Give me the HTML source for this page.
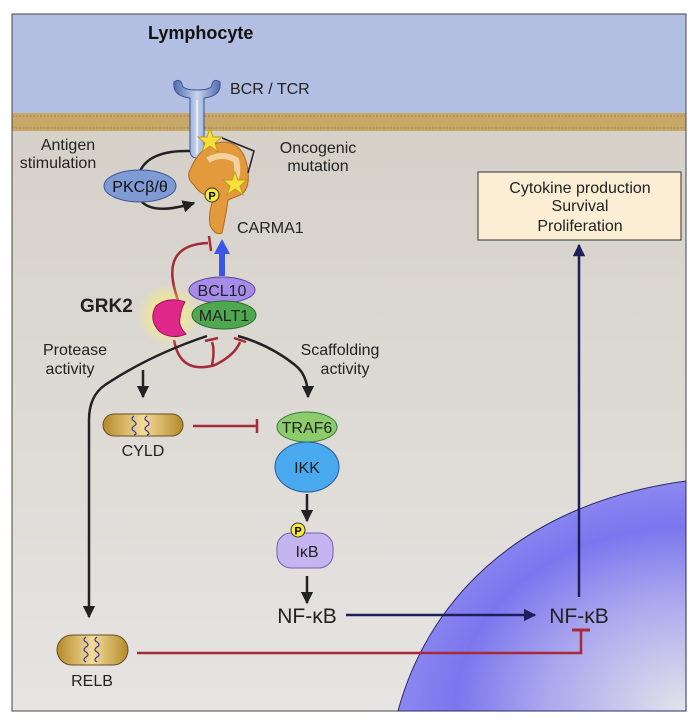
<!DOCTYPE html>
<html><head><meta charset="utf-8"><style>
body{margin:0;background:#fff}
svg{display:block;font-family:"Liberation Sans",Arial,sans-serif}
</style></head><body>
<svg width="700" height="726" viewBox="0 0 700 726" xmlns="http://www.w3.org/2000/svg">
<defs>
<linearGradient id="bg" x1="0" y1="0" x2="0" y2="1"><stop offset="0" stop-color="#d2cdc4"/><stop offset="1" stop-color="#e6e4e2"/></linearGradient>
<radialGradient id="nuc" cx="1" cy="1" r="1"><stop offset="0" stop-color="#e4e4ea"/><stop offset="0.5" stop-color="#a9a6ee"/><stop offset="0.8" stop-color="#7b76ee"/><stop offset="1" stop-color="#8d88f0"/></radialGradient>
<linearGradient id="cap" x1="0" y1="0" x2="1" y2="0"><stop offset="0" stop-color="#b48a2a"/><stop offset="0.5" stop-color="#f3dc9a"/><stop offset="1" stop-color="#b48a2a"/></linearGradient>
<linearGradient id="rec" x1="0" y1="0" x2="1" y2="0"><stop offset="0" stop-color="#4f6cb0"/><stop offset="0.5" stop-color="#c8d4f0"/><stop offset="1" stop-color="#4f6cb0"/></linearGradient>
<radialGradient id="glow"><stop offset="0" stop-color="#fff36a"/><stop offset="1" stop-color="#fff36a" stop-opacity="0"/></radialGradient>
<marker id="ah" viewBox="0 0 10 10" refX="9" refY="5" markerWidth="5" markerHeight="5" orient="auto"><path d="M0,0L10,5L0,10z" fill="#222"/></marker>
<marker id="ahn" viewBox="0 0 10 10" refX="9" refY="5" markerWidth="5" markerHeight="5" orient="auto"><path d="M0,0L10,5L0,10z" fill="#1e1e5a"/></marker>
</defs>
<rect x="12" y="14" width="674" height="697" fill="url(#bg)" stroke="#444" stroke-width="1"/>
<rect x="12.5" y="14.5" width="673" height="99" fill="#b3bfe2"/>
<rect x="12.5" y="113" width="673" height="18" fill="#c7a868"/>
<g stroke="#a3844a" stroke-width="1">
<line x1="12" y1="116" x2="686" y2="116" stroke-dasharray="2,1.5"/>
<line x1="12" y1="128" x2="686" y2="128" stroke-dasharray="2,1.5"/>
</g>
<path d="M398 711 C425 610,510 505,686 481 L686 711Z" fill="url(#nuc)" stroke="#2a2a6a" stroke-width="1"/>
<text x="148" y="39" font-size="18" font-weight="bold" fill="#111">Lymphocyte</text>
<!-- receptor -->
<path d="M174 82 Q172 96 190 98 L190 150 Q190 158 197 158 Q204 158 204 150 L204 98 Q222 96 220 82 Q214 78 212 84 Q212 90 197 90 Q182 90 182 84 Q180 78 174 82Z" fill="url(#rec)" stroke="#3d5390"/>
<line x1="197" y1="100" x2="197" y2="154" stroke="#f0f4ff" stroke-width="1.5"/>
<text x="230" y="94" font-size="16" fill="#222">BCR / TCR</text>
<text x="68" y="150" font-size="16" fill="#222" text-anchor="middle">Antigen</text>
<text x="58" y="168" font-size="16" fill="#222" text-anchor="middle">stimulation</text>
<!-- CARMA1 -->
<path d="M190 170 Q200 145 222 142 Q245 142 248 172 Q250 190 240 195 L228 200 Q226 215 222 233 Q215 236 210 225 Q208 212 214 198 Q200 195 194 185 Q186 178 190 170Z" fill="#e39a3c" stroke="#b06a20"/>
<path d="M208 160 Q222 152 236 160 Q240 175 232 185" fill="none" stroke="#f6e0b8" stroke-width="6" opacity="0.8"/>
<polygon points="210,128 213,137 222,137 215,143 218,152 210,146 202,152 205,143 198,137 207,137" fill="#f6e03a" stroke="#c09a20"/>
<polygon points="235,172 238,180 247,180 240,186 243,195 235,189 227,195 230,186 223,180 232,180" fill="#f6e03a" stroke="#c09a20"/>
<circle cx="212" cy="195" r="7" fill="#f7ea3a" stroke="#333"/><text x="212" y="199.5" font-size="11" font-weight="bold" text-anchor="middle">P</text>
<polyline points="222,138 254,151 248,173" fill="none" stroke="#222" stroke-width="1.5"/>
<text x="318" y="153" font-size="16" fill="#222" text-anchor="middle">Oncogenic</text>
<text x="318" y="171" font-size="16" fill="#222" text-anchor="middle">mutation</text>
<text x="237" y="233" font-size="16" fill="#222">CARMA1</text>
<!-- PKC -->
<path d="M140 171 Q150 150 190 151" fill="none" stroke="#222" stroke-width="2.5"/>
<path d="M142 202 Q155 215 194 203" fill="none" stroke="#222" stroke-width="2.5" marker-end="url(#ah)"/>
<ellipse cx="140" cy="186" rx="36" ry="16" fill="#7f9ad4" stroke="#3d5390"/>
<text x="140" y="192" font-size="16" text-anchor="middle" fill="#111">PKCβ/θ</text>
<!-- blue arrow -->
<line x1="222" y1="276" x2="222" y2="252" stroke="#3a55e8" stroke-width="6"/>
<path d="M214 254 L222 239 L230 254Z" fill="#3a55e8"/>
<!-- red loops -->
<path d="M178 300 Q158 245 208 243" fill="none" stroke="#a52a3a" stroke-width="2.5"/>
<line x1="209" y1="236" x2="211" y2="251" stroke="#a52a3a" stroke-width="2.5"/>
<path d="M174 340 Q180 375 215 365 Q235 355 240 342" fill="none" stroke="#a52a3a" stroke-width="2.5"/>
<path d="M212 365 Q215 350 212 342" fill="none" stroke="#a52a3a" stroke-width="2.5"/>
<line x1="205" y1="341" x2="218" y2="338" stroke="#a52a3a" stroke-width="2.5"/>
<line x1="234" y1="338" x2="246" y2="342" stroke="#a52a3a" stroke-width="2.5"/>
<!-- GRK2 -->
<circle cx="168" cy="315" r="32" fill="url(#glow)"/>
<ellipse cx="222" cy="290" rx="33" ry="13" fill="#a58ce8" stroke="#5a40a0"/>
<text x="222" y="296" font-size="16" text-anchor="middle" fill="#222">BCL10</text>
<ellipse cx="224" cy="315" rx="32" ry="14" fill="#4fa850" stroke="#2a6a2a"/>
<text x="224" y="321" font-size="16" text-anchor="middle" fill="#222">MALT1</text>
<path d="M185 302 Q168 296 156 306 Q148 320 160 332 Q172 340 186 334 Q178 326 180 318 Q181 308 185 302Z" fill="#e0288a" stroke="#a01060"/>
<text x="80" y="312" font-size="19" font-weight="bold" fill="#222">GRK2</text>
<text x="75" y="355" font-size="16" fill="#222" text-anchor="middle">Protease</text>
<text x="70" y="374" font-size="16" fill="#222" text-anchor="middle">activity</text>
<text x="340" y="355" font-size="16" fill="#222" text-anchor="middle">Scaffolding</text>
<text x="345" y="374" font-size="16" fill="#222" text-anchor="middle">activity</text>
<!-- black branches -->
<path d="M207 336 Q150 355 105 385 Q89 396 89 420 L89 617" fill="none" stroke="#222" stroke-width="2.5" marker-end="url(#ah)"/>
<path d="M143 370 L143 397" fill="none" stroke="#222" stroke-width="2.5" marker-end="url(#ah)"/>
<path d="M238 336 Q270 345 295 365 Q308 375 308 397" fill="none" stroke="#222" stroke-width="2.5" marker-end="url(#ah)"/>
<!-- CYLD -->
<rect x="103" y="414" width="80" height="22" rx="11" fill="url(#cap)" stroke="#6a5020"/>
<path d="M134 416 q-4 3 0 5 q4 3 0 5 q-4 3 0 5 q4 3 0 4 M147 416 q-4 3 0 5 q4 3 0 5 q-4 3 0 5 q4 3 0 4" fill="none" stroke="#3a3aa0" stroke-width="1.2"/>
<text x="143" y="456" font-size="16" text-anchor="middle" fill="#222">CYLD</text>
<line x1="193" y1="426" x2="257" y2="426" stroke="#a52a3a" stroke-width="2.5"/>
<line x1="257" y1="419" x2="257" y2="433" stroke="#a52a3a" stroke-width="2.5"/>
<!-- TRAF6/IKK -->
<ellipse cx="307" cy="427" rx="30" ry="15" fill="#8ccc6a" stroke="#3a7a3a"/>
<text x="307" y="433" font-size="16" text-anchor="middle" fill="#222">TRAF6</text>
<ellipse cx="307" cy="467" rx="32" ry="25" fill="#4aaaf0" stroke="#2a5a9a"/>
<text x="307" y="473" font-size="16" text-anchor="middle" fill="#222">IKK</text>
<line x1="307" y1="494" x2="307" y2="521" stroke="#222" stroke-width="2.5" marker-end="url(#ah)"/>
<rect x="277" y="533" width="56" height="35" rx="14" fill="#c4b4f0" stroke="#7060b0"/>
<circle cx="298" cy="530" r="7" fill="#f7ea3a" stroke="#333"/><text x="298" y="534.5" font-size="11" font-weight="bold" text-anchor="middle">P</text>
<text x="307" y="557" font-size="16" text-anchor="middle" fill="#222">IκB</text>
<line x1="307" y1="576" x2="307" y2="603" stroke="#222" stroke-width="2.5" marker-end="url(#ah)"/>
<text x="307" y="623" font-size="21" text-anchor="middle" fill="#222">NF-κB</text>
<line x1="346" y1="615" x2="535" y2="615" stroke="#1e1e5a" stroke-width="2.5" marker-end="url(#ahn)"/>
<text x="579" y="623" font-size="21" text-anchor="middle" fill="#222">NF-κB</text>
<line x1="579" y1="597" x2="579" y2="245" stroke="#1e1e5a" stroke-width="2.5" marker-end="url(#ahn)"/>
<rect x="478" y="172" width="203" height="68" fill="#fbeed4" stroke="#333"/>
<text x="580" y="193" font-size="16" text-anchor="middle" fill="#222">Cytokine production</text>
<text x="580" y="211" font-size="16" text-anchor="middle" fill="#222">Survival</text>
<text x="580" y="231" font-size="16" text-anchor="middle" fill="#222">Proliferation</text>
<!-- RELB -->
<rect x="57" y="635" width="71" height="30" rx="15" fill="url(#cap)" stroke="#6a5020"/>
<path d="M86 637 q-4 3 0 5 q4 3 0 5 q-4 3 0 5 q4 3 0 5 q-4 3 0 5 M97 637 q-4 3 0 5 q4 3 0 5 q-4 3 0 5 q4 3 0 5 q-4 3 0 5" fill="none" stroke="#3a3aa0" stroke-width="1.2"/>
<text x="92" y="686" font-size="16" text-anchor="middle" fill="#222">RELB</text>
<polyline points="137,653 581,653 581,630" fill="none" stroke="#a52a3a" stroke-width="2.5"/>
<line x1="572" y1="630" x2="590" y2="630" stroke="#a52a3a" stroke-width="3"/>
</svg>
</body></html>
